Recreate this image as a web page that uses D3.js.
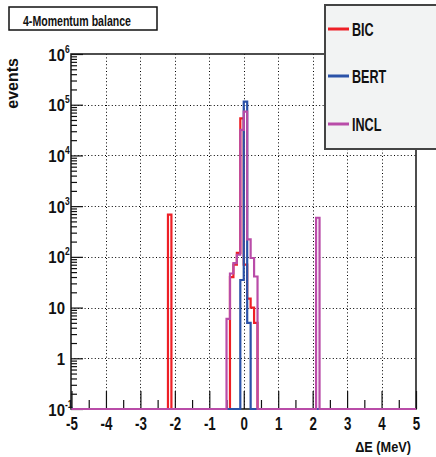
<!DOCTYPE html>
<html>
<head>
<meta charset="utf-8">
<script src="https://cdn.jsdelivr.net/npm/d3@7/dist/d3.min.js"></script>
<style>
  html, body { margin: 0; padding: 0; background: #fff; }
  svg { display: block; font-family: "Liberation Sans", Arial, sans-serif; }
</style>
</head>
<body>
<svg id="chart" width="436" height="457"></svg>
<script>
// Histogram range and binning (MeV)
const xRange = [-5, 5];
const binWidth = 0.1;
const yRange = [0.1, 1e6];

// Non-empty bins: lower bin edge (MeV) and event count
const bicEdges   = [-2.2, -0.4, -0.3, -0.2, -0.1, 0.0, 0.1, 0.2, 0.3];
const bicCounts  = [680, 40, 70, 120, 54000, 70, 15, 10, 5];
const bertEdges  = [-0.1, 0.0, 0.1];
const bertCounts = [35, 115000, 5];
const inclEdges  = [-0.5, -0.4, -0.3, -0.2, -0.1, 0.0, 0.1, 0.2, 0.3, 2.1];
const inclCounts = [6, 47, 75, 110, 32000, 73000, 222, 95, 41, 590];

const seriesNames = ["BIC", "BERT", "INCL"];
const seriesColors = ["#ee1f26", "#2b52a8", "#b94ca8"];

const xMajor = [-5, -4, -3, -2, -1, 0, 1, 2, 3, 4, 5];
const xMinor = [-4.5, -3.5, -2.5, -1.5, -0.5, 0.5, 1.5, 2.5, 3.5, 4.5];
const yDecades = [0.1, 1, 10, 100, 1e3, 1e4, 1e5, 1e6];

const svg = d3.select("#chart");
const frame = { left: 71, right: 416, top: 54, bottom: 409 };

const x = d3.scaleLinear().domain(xRange).range([frame.left + 0.5, frame.right]);
const y = d3.scaleLog().domain(yRange).range([frame.bottom, frame.top]);

// Fill a full set of bins from the listed non-empty ones
function fullBins(edges, counts) {
  const n = Math.round((xRange[1] - xRange[0]) / binWidth);
  const bins = d3.range(n).map(i => ({ lo: xRange[0] + i * binWidth, c: 0 }));
  edges.forEach((e, k) => {
    const i = Math.round((e - xRange[0]) / binWidth);
    bins[i].c = counts[k];
  });
  return bins;
}

// Grid (dotted)
const grid = svg.append("g").attr("stroke", "#000").attr("stroke-width", 1)
  .attr("stroke-dasharray", "1,2.4");
grid.selectAll("line.gx").data(xMajor.slice(1, -1)).join("line")
  .attr("x1", d => Math.round(x(d)) + 0.5).attr("x2", d => Math.round(x(d)) + 0.5)
  .attr("y1", frame.top).attr("y2", frame.bottom);
grid.selectAll("line.gy").data(yDecades.slice(1, -1)).join("line")
  .attr("x1", frame.left).attr("x2", frame.right)
  .attr("y1", d => Math.round(y(d)) + 0.5).attr("y2", d => Math.round(y(d)) + 0.5);

// Frame
svg.append("rect")
  .attr("x", frame.left).attr("y", frame.top)
  .attr("width", frame.right - frame.left).attr("height", frame.bottom - frame.top)
  .attr("fill", "none").attr("stroke", "#222").attr("stroke-width", 1.6);

// X axis: major ticks with labels, minor ticks
const xAxisG = svg.append("g").attr("transform", `translate(0,${frame.bottom})`)
  .call(d3.axisBottom(x).tickValues(xMajor).tickSize(-18).tickFormat(d => String(d)));
xAxisG.select(".domain").remove();
xAxisG.selectAll(".tick line").attr("stroke", "#111").attr("stroke-width", 1.2);
xAxisG.selectAll(".tick text")
  .attr("y", 21).attr("dy", 0)
  .attr("fill", "#111")
  .attr("font-size", 18).attr("font-weight", "bold")
  .attr("transform", "scale(0.74,1)");

const xMinorG = svg.append("g").attr("transform", `translate(0,${frame.bottom})`)
  .call(d3.axisBottom(x).tickValues(xMinor).tickSize(-9).tickFormat(""));
xMinorG.select(".domain").remove();
xMinorG.selectAll(".tick line").attr("stroke", "#111").attr("stroke-width", 1.2);

// Y axis: decades with 10^n labels, minor ticks 2..9
const yAxisG = svg.append("g").attr("transform", `translate(${frame.left},0)`)
  .call(d3.axisLeft(y).tickValues(yDecades).tickSize(-12).tickFormat(""));
yAxisG.select(".domain").remove();
yAxisG.selectAll(".tick line").attr("stroke", "#111").attr("stroke-width", 1.2);
yAxisG.selectAll(".tick").each(function (d) {
  const g = d3.select(this);
  const exp = Math.round(Math.log10(d));
  const base = exp === 0 ? "1" : "10";
  g.append("text")
    .attr("x", 0).attr("y", 6)
    .attr("text-anchor", "end")
    .attr("fill", "#111")
    .attr("font-size", 17).attr("font-weight", "bold")
    .attr("transform", "translate(-6,0) scale(0.88,1)")
    .text(base);
  if (exp !== 0 && exp !== 1) {
    g.append("text")
      .attr("x", 0).attr("y", -2)
      .attr("text-anchor", "start")
      .attr("fill", "#111")
      .attr("font-size", 10).attr("font-weight", "bold")
      .attr("transform", "translate(-6,0) scale(0.85,1)")
      .text(String(exp));
  }
});

const yMinorVals = [];
yDecades.slice(0, -1).forEach(dec => [2, 3, 4, 5, 6, 7, 8, 9].forEach(m => yMinorVals.push(dec * m)));
const yMinorG = svg.append("g").attr("transform", `translate(${frame.left},0)`)
  .call(d3.axisLeft(y).tickValues(yMinorVals).tickSize(-6).tickFormat(""));
yMinorG.select(".domain").remove();
yMinorG.selectAll(".tick line").attr("stroke", "#111").attr("stroke-width", 1.2);

// Histograms as step outlines; empty bins sit on the lower frame edge
const step = d3.line()
  .x(d => x(d.lo))
  .y(d => y(Math.max(d.c, yRange[0])))
  .curve(d3.curveStepAfter);

const allSeries = [
  fullBins(bicEdges, bicCounts),
  fullBins(bertEdges, bertCounts),
  fullBins(inclEdges, inclCounts)
];
allSeries.forEach((bins, k) => {
  const pts = bins.concat([{ lo: xRange[1], c: bins[bins.length - 1].c }]);
  svg.append("path")
    .attr("d", step(pts))
    .attr("fill", "none")
    .attr("stroke", seriesColors[k])
    .attr("stroke-width", 2.2)
    .attr("stroke-linejoin", "miter");
});

// Axis titles
svg.append("text")
  .attr("transform", "translate(411,452) scale(0.85,1)")
  .attr("text-anchor", "end")
  .attr("font-size", 15).attr("font-weight", "bold").attr("fill", "#111")
  .text("ΔE (MeV)");

svg.append("text")
  .attr("transform", "translate(18,58) rotate(-90)")
  .attr("text-anchor", "end")
  .attr("font-size", 16).attr("font-weight", "bold").attr("fill", "#111")
  .text("events");

// Title box
svg.append("rect")
  .attr("x", 9).attr("y", 7).attr("width", 148).attr("height", 23)
  .attr("fill", "#fff").attr("stroke", "#111").attr("stroke-width", 1.5);
svg.append("text")
  .attr("transform", "translate(23,26) scale(0.755,1)")
  .attr("font-size", 14).attr("font-weight", "bold").attr("fill", "#111")
  .text("4-Momentum balance");

// Legend
const legend = svg.append("g");
legend.append("rect")
  .attr("x", 325).attr("y", 5).attr("width", 130).attr("height", 144)
  .attr("fill", "#f2f3f3").attr("stroke", "#444").attr("stroke-width", 2);
const legendY = [29, 76, 124];
seriesNames.forEach((name, k) => {
  legend.append("line")
    .attr("x1", 328).attr("x2", 349)
    .attr("y1", legendY[k]).attr("y2", legendY[k])
    .attr("stroke", seriesColors[k]).attr("stroke-width", 3);
  legend.append("text")
    .attr("transform", `translate(352,${legendY[k] + 6.5}) scale(0.7,1)`)
    .attr("font-size", 18).attr("font-weight", "bold").attr("fill", "#111")
    .text(name);
});
</script>
</body>
</html>
